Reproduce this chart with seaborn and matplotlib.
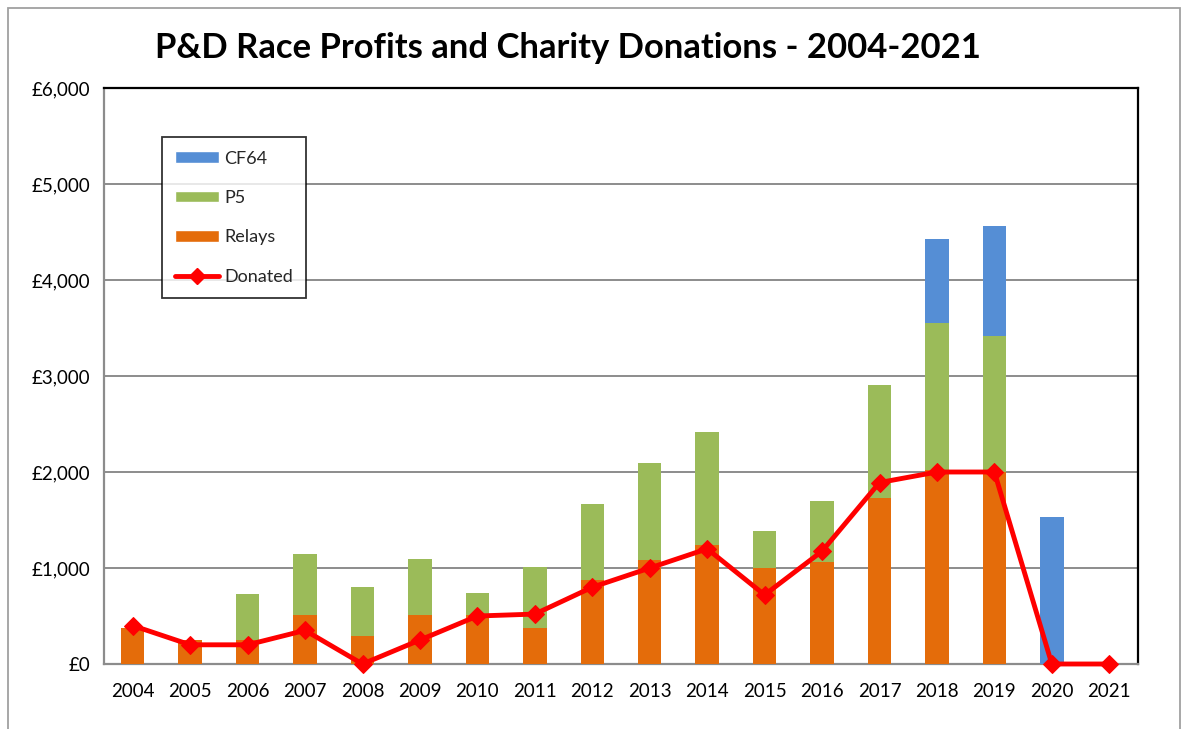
import numpy as np
import pandas as pd
import seaborn as sns
import matplotlib.pyplot as plt
from matplotlib.patches import Rectangle, Patch
from matplotlib.lines import Line2D
from matplotlib.ticker import FuncFormatter

# data
years = [str(y) for y in range(2004, 2022)]
relays = [380, 245, 250, 515, 290, 510, 510, 375, 880, 1080, 1235, 1005, 1065, 1725, 2020, 2005, 0, 0]
p5 = [0, 0, 480, 630, 512, 585, 228, 640, 783, 1017, 1182, 377, 633, 1178, 1530, 1412, 0, 0]
cf64 = [0, 0, 0, 0, 0, 0, 0, 0, 0, 0, 0, 0, 0, 0, 880, 1142, 1530, 0]
donated = [400, 200, 200, 350, 0, 250, 500, 520, 800, 1000, 1200, 720, 1175, 1890, 2000, 2000, 0, 0]

c_cf64 = "#558ed5"
c_p5 = "#9bbb59"
c_relays = "#e46c0a"
c_line = "#ff0000"

df = pd.DataFrame({"year": years, "relays": relays, "p5": p5, "cf64": cf64, "donated": donated})
df["p5_bottom"] = df["relays"]
df["cf64_bottom"] = df["relays"] + df["p5"]

sns.set_style("white")
plt.rcParams["font.family"] = ["Lato", "DejaVu Sans"]

fig = plt.figure(figsize=(11.89, 7.29), dpi=100)
ax = fig.add_axes([104 / 1189, 1 - 664 / 729, (1138 - 104) / 1189, (664 - 88) / 729])

# stacked bars
bw = 0.41
sns.barplot(data=df, x="year", y="relays", color=c_relays, width=bw, saturation=1,
            ax=ax, linewidth=0, zorder=3)
sns.barplot(data=df, x="year", y="p5", bottom=df["p5_bottom"], color=c_p5, width=bw,
            saturation=1, ax=ax, linewidth=0, zorder=3)
sns.barplot(data=df, x="year", y="cf64", bottom=df["cf64_bottom"], color=c_cf64, width=bw,
            saturation=1, ax=ax, linewidth=0, zorder=3)

# donated line
sns.lineplot(x=np.arange(len(years)), y=df["donated"], color=c_line, linewidth=3.5,
             marker="D", markersize=9, markeredgecolor=c_line, sort=False, ax=ax, zorder=5,
             clip_on=False)

ax.set_xlim(-0.5, len(years) - 0.5)
ax.set_ylim(0, 6000)
ax.set_yticks(range(0, 6001, 1000))
ax.yaxis.set_major_formatter(FuncFormatter(lambda v, p: "£{:,.0f}".format(v)))
ax.set_xlabel("")
ax.set_ylabel("")

ax.set_xticks(range(len(years)))
ax.set_xticklabels(years)
ax.set_xticks(np.arange(-0.5, len(years), 1), minor=True)
ax.tick_params(axis="x", which="major", length=0, pad=14, labelsize=13.5, colors="black")
ax.tick_params(axis="x", which="minor", length=6, width=1.2, color="#8c8c8c", direction="out")
ax.tick_params(axis="y", which="major", length=6, width=1.2, color="#8c8c8c", direction="out",
               labelsize=13.5, pad=4, labelcolor="black")

ax.yaxis.grid(True, color="#8c8c8c", linewidth=1.4, zorder=0)
ax.set_axisbelow(True)
for side in ["left", "bottom"]:
    ax.spines[side].set_color("#8c8c8c")
    ax.spines[side].set_linewidth(1.6)
for side in ["top", "right"]:
    ax.spines[side].set_color("black")
    ax.spines[side].set_linewidth(1.6)

handles = [
    Patch(facecolor=c_cf64, label="CF64"),
    Patch(facecolor=c_p5, label="P5"),
    Patch(facecolor=c_relays, label="Relays"),
    Line2D([0], [0], color=c_line, linewidth=3.5, marker="D", markersize=8, label="Donated"),
]
leg = ax.legend(handles=handles, loc="upper left", bbox_to_anchor=(0.056, 0.915),
                frameon=True, fancybox=False, edgecolor="black", fontsize=13,
                handlelength=2.4, handleheight=0.6, labelspacing=1.3, borderpad=0.75,
                handletextpad=0.3, borderaxespad=0)
leg.get_frame().set_linewidth(1.3)

fig.text(568 / 1189, 1 - 48 / 729, "P&D Race Profits and Charity Donations - 2004-2021",
         ha="center", va="center", fontsize=24.9, fontweight="bold", color="black")

# chart area border
fig.patches.append(Rectangle((8 / 1189, -0.05), (1180 - 8) / 1189, 1.05 - 8 / 729,
                             transform=fig.transFigure, fill=False,
                             edgecolor="#a0a0a0", linewidth=1.3))

fig.savefig("out.png", dpi=100, facecolor="white")
